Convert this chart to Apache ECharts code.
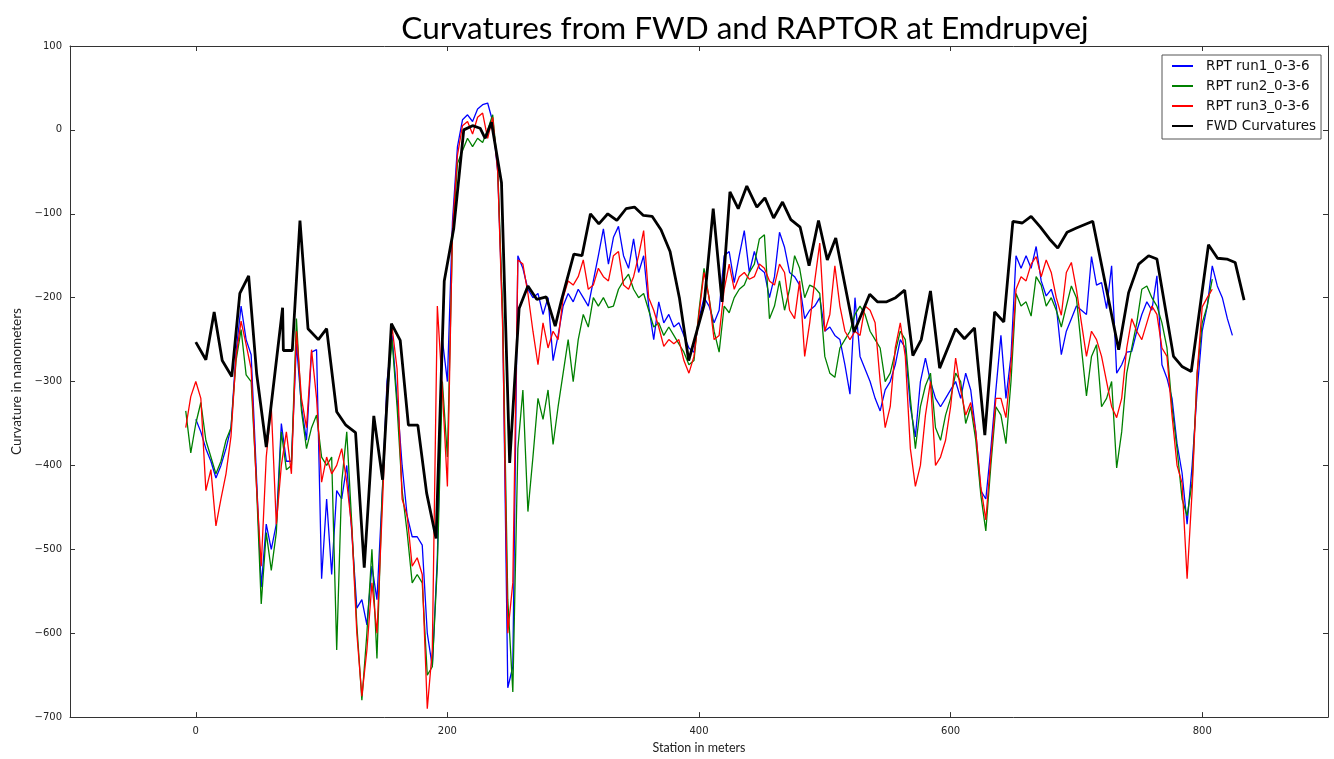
<!DOCTYPE html>
<html>
<head>
<meta charset="utf-8">
<script src="https://cdn.jsdelivr.net/npm/echarts@6/dist/echarts.min.js"></script>
<style>
html,body{margin:0;padding:0;background:#fff;}
#chart{width:1334px;height:759px;}
</style>
</head>
<body>
<div id="chart"></div>
<script>
// RPT sampling stations (m)
const stations = [
  -8,-4,0,4,8,12,16,20,24,28,
  32,36,40,44,48,52,56,60,64,68,
  72,76,80,84,88,92,96,100,104,108,
  112,116,120,124,128,132,136,140,144,148,
  152,156,160,164,168,172,176,180,184,188,
  192,196,200,204,208,212,216,220,224,228,
  232,236,240,244,248,252,256,260,264,268,
  272,276,280,284,288,292,296,300,304,308,
  312,316,320,324,328,332,336,340,344,348,
  352,356,360,364,368,372,376,380,384,388,
  392,396,400,404,408,412,416,420,424,428,
  432,436,440,444,448,452,456,460,464,468,
  472,476,480,484,488,492,496,500,504,508,
  512,516,520,524,528,532,536,540,544,548,
  552,556,560,564,568,572,576,580,584,588,
  592,596,600,604,608,612,616,620,624,628,
  632,636,640,644,648,652,656,660,664,668,
  672,676,680,684,688,692,696,700,704,708,
  712,716,720,724,728,732,736,740,744,748,
  752,756,760,764,768,772,776,780,784,788,
  792,796,800,804,808,812,816,820,824
];
const run1 = [
  null,null,-345,-360,-380,-395,-415,-400,-380,-355,
  -265,-210,-250,-268,-405,-545,-470,-500,-470,-350,
  -395,-395,-255,-330,-370,-265,-262,-535,-440,-530,
  -430,-440,-400,-480,-570,-560,-590,-520,-560,-440,
  -300,-245,-320,-400,-460,-485,-485,-495,-600,-640,
  -510,-250,-300,-110,-20,12,18,10,25,30,
  32,10,-50,-230,-665,-640,-150,-165,-190,-200,
  -195,-220,-200,-275,-245,-210,-195,-205,-190,-200,
  -210,-180,-150,-118,-160,-128,-115,-150,-165,-130,
  -170,-150,-210,-250,-205,-230,-220,-235,-230,-245,
  -260,-265,-225,-200,-210,-230,-215,-150,-145,-182,
  -150,-120,-170,-145,-165,-170,-200,-175,-122,-140,
  -170,-175,-185,-225,-215,-210,-200,-240,-235,-245,
  -250,-280,-315,-200,-270,-285,-300,-320,-335,-310,
  -300,-280,-250,-260,-330,-366,-300,-272,-300,-320,
  -330,-320,-310,-300,-320,-290,-310,-360,-430,-440,
  -380,-310,-245,-320,-270,-150,-165,-150,-165,-139,
  -180,-198,-190,-210,-268,-240,-225,-210,-215,-220,
  -151,-185,-182,-213,-162,-290,-280,-265,-264,-240,
  -220,-205,-215,-174,-280,-296,-320,-374,-409,-470,
  -400,-311,-240,-210,-162,-186,-200,-225,-245
];
const run2 = [
  -335,-385,-350,-325,-370,-390,-410,-395,-370,-355,
  -275,-238,-292,-300,-415,-565,-480,-525,-480,-360,
  -405,-400,-225,-335,-380,-355,-340,-390,-400,-390,
  -620,-420,-360,-470,-590,-680,-600,-500,-630,-440,
  -320,-250,-330,-430,-480,-540,-530,-540,-650,-640,
  -520,-300,-390,-130,-40,-25,-10,-20,-10,-15,
  0,18,-45,-220,-560,-670,-380,-310,-455,-390,
  -320,-345,-310,-375,-330,-290,-250,-300,-250,-220,
  -235,-200,-210,-200,-212,-210,-190,-180,-172,-190,
  -200,-195,-215,-235,-230,-245,-235,-245,-255,-265,
  -280,-275,-215,-165,-200,-240,-265,-210,-218,-200,
  -190,-185,-170,-160,-130,-125,-225,-210,-180,-215,
  -190,-150,-165,-200,-185,-188,-195,-270,-290,-295,
  -260,-250,-240,-220,-210,-220,-240,-250,-260,-300,
  -290,-265,-240,-250,-320,-380,-330,-305,-290,-355,
  -370,-340,-320,-290,-300,-350,-330,-370,-435,-478,
  -400,-330,-340,-374,-300,-195,-210,-205,-222,-175,
  -185,-210,-200,-215,-235,-210,-186,-200,-260,-317,
  -270,-256,-330,-320,-300,-403,-360,-290,-260,-230,
  -190,-186,-200,-210,-230,-260,-330,-380,-440,-460,
  -420,-290,-230,-210,-178,null,null,null,null
];
const run3 = [
  -355,-318,-300,-320,-430,-405,-472,-440,-410,-365,
  -270,-228,-256,-285,-418,-520,-390,-330,-470,-400,
  -360,-410,-240,-320,-355,-262,-320,-420,-390,-410,
  -400,-380,-420,-475,-600,-675,-620,-540,-600,-460,
  -310,-235,-285,-440,-460,-520,-510,-530,-690,-620,
  -210,-310,-425,-120,-30,5,10,-5,15,20,
  -10,15,-50,-240,-600,-540,-155,-160,-195,-240,
  -280,-230,-260,-240,-250,-200,-180,-185,-175,-155,
  -190,-185,-165,-175,-180,-150,-145,-185,-190,-175,
  -150,-120,-200,-215,-235,-258,-250,-255,-250,-275,
  -290,-270,-220,-170,-200,-250,-245,-190,-160,-190,
  -175,-170,-178,-175,-160,-165,-180,-185,-160,-170,
  -215,-225,-180,-270,-230,-180,-135,-240,-220,-162,
  -210,-240,-250,-240,-245,-210,-215,-230,-300,-355,
  -330,-260,-230,-270,-380,-425,-400,-340,-300,-400,
  -390,-370,-330,-272,-310,-340,-325,-360,-425,-465,
  -390,-320,-320,-343,-280,-190,-175,-180,-160,-151,
  -175,-155,-170,-200,-221,-170,-158,-190,-230,-270,
  -240,-250,-270,-300,-330,-343,-320,-260,-225,-240,
  -250,-230,-210,-220,-260,-270,-340,-400,-421,-535,
  -430,-290,-211,-200,-190,null,null,null,null
];
// FWD stations (m) and curvatures
const fwdStations = [
  0,8,14.6,21,28.6,35,42,48.4,56,69,
  69.6,76.7,82.8,89.2,97.4,104,112,119.3,127,133.9,
  141.5,148.5,155.5,162.5,169,176.5,183.5,191,197.5,205,
  213,220,226,230,235,243,249.5,257,264,271,
  278.6,285.7,290.5,300.5,307,313.7,320.4,327.5,334.7,342,
  348.7,355.8,362.7,369.8,377,384.4,391.8,404,411.3,418.3,
  424.6,431.2,438,446,452.4,459.3,466.4,473,480.4,487.5,
  495,502,508.7,523.3,535.7,541.8,549.2,556.3,563.5,570,
  576.7,584,591.3,604,611,619,627.2,635,642.3,649.5,
  657,664,671.4,678.6,685.2,692.6,700,713,733.6,741.5,
  749.5,757.4,764,777.2,783.9,791.3,805,812.2,819.6,826.2,
  833.3
];
const fwdValues = [
  -253,-274,-217,-275,-294,-195,-174,-291,-378,-212,
  -263,-263,-108,-237,-250,-237,-336,-352,-361,-522,
  -341,-417,-231,-251,-352,-352,-433,-487,-180,-118,
  0,5,2,-10,9,-63,-397,-213,-186,-202,
  -199,-234,-204,-148,-150,-100,-112,-100,-108,-94,
  -92,-102,-103,-119,-145,-200,-275,-209,-94,-205,
  -74,-94,-67,-92,-81,-105,-86,-107,-116,-162,
  -108,-155,-129,-241,-196,-205,-205,-200,-191,-269,
  -250,-192,-284,-237,-249,-236,-364,-217,-229,-109,
  -111,-103,-116,-130,-141,-122,-117,-109,-262,-194,
  -160,-150,-154,-270,-282,-288,-137,-153,-154,-158,
  -203
];
const xTicks = [0, 200, 400, 600, 800];
const seriesNames = ['RPT run1_0-3-6', 'RPT run2_0-3-6', 'RPT run3_0-3-6', 'FWD Curvatures'];

function zip(xs, ys) { return xs.map((x, i) => [x, ys[i]]); }
const minus = v => String(v).replace('-', '\u2212');

const chart = echarts.init(document.getElementById('chart'), null, {renderer: 'canvas'});
const tickFont = {fontFamily: 'DejaVu Sans', fontSize: 10, color: '#222'};
const axisLineStyle = {show: true, onZero: false, lineStyle: {color: '#333', width: 1}};
const tickStyle = {show: true, inside: true, length: 5, lineStyle: {color: '#333', width: 1}};

chart.setOption({
  animation: false,
  backgroundColor: '#fff',
  title: {
    text: 'Curvatures from FWD and RAPTOR at Emdrupvej',
    left: 740, top: 8, textAlign: 'center',
    textStyle: {fontFamily: 'Lato', fontSize: 31.5, fontWeight: 'normal', color: '#000'}
  },
  grid: {left: 70, right: 6, top: 46, bottom: 32, containLabel: false},
  legend: {
    orient: 'vertical', left: 1162, top: 55,
    data: seriesNames,
    itemWidth: 21, itemHeight: 14, itemGap: 6,
    padding: [4, 5, 6, 9],
    itemStyle: {opacity: 0},
    backgroundColor: '#fff', borderColor: '#555', borderWidth: 1, borderRadius: 0,
    textStyle: {fontFamily: 'DejaVu Sans', fontSize: 13.5, color: '#111', padding: [0, 0, 0, 8]}
  },
  xAxis: [{
    type: 'value', min: -100, max: 900, position: 'bottom',
    name: 'Station in meters', nameLocation: 'middle', nameGap: 21,
    nameTextStyle: {fontFamily: 'Lato', fontSize: 12.5, color: '#222'},
    axisLine: axisLineStyle,
    axisTick: Object.assign({customValues: xTicks}, tickStyle),
    axisLabel: Object.assign({customValues: xTicks, margin: 9, formatter: minus}, tickFont),
    splitLine: {show: false}
  }, {
    type: 'value', min: -100, max: 900, position: 'top',
    axisLine: axisLineStyle,
    axisTick: Object.assign({customValues: xTicks}, tickStyle),
    axisLabel: {show: false},
    splitLine: {show: false}
  }],
  yAxis: [{
    type: 'value', min: -700, max: 100, interval: 100, position: 'left',
    name: 'Curvature in nanometers', nameLocation: 'middle', nameGap: 33, nameRotate: 90,
    nameTextStyle: {fontFamily: 'Lato', fontSize: 13.5, color: '#222'},
    axisLine: axisLineStyle,
    axisTick: tickStyle,
    axisLabel: Object.assign({margin: 8, formatter: minus}, tickFont),
    splitLine: {show: false}
  }, {
    type: 'value', min: -700, max: 100, interval: 100, position: 'right',
    axisLine: axisLineStyle,
    axisTick: tickStyle,
    axisLabel: {show: false},
    splitLine: {show: false}
  }],
  series: [
    {name: seriesNames[0], type: 'line', data: zip(stations, run1), symbol: 'none',
     lineStyle: {color: '#0000ff', width: 1.3}, itemStyle: {color: '#0000ff'}, connectNulls: false},
    {name: seriesNames[1], type: 'line', data: zip(stations, run2), symbol: 'none',
     lineStyle: {color: '#008000', width: 1.3}, itemStyle: {color: '#008000'}, connectNulls: false},
    {name: seriesNames[2], type: 'line', data: zip(stations, run3), symbol: 'none',
     lineStyle: {color: '#ff0000', width: 1.3}, itemStyle: {color: '#ff0000'}, connectNulls: false},
    {name: seriesNames[3], type: 'line', data: zip(fwdStations, fwdValues), symbol: 'none',
     lineStyle: {color: '#000000', width: 2.8}, itemStyle: {color: '#000000'}}
  ]
});
</script>
</body>
</html>
